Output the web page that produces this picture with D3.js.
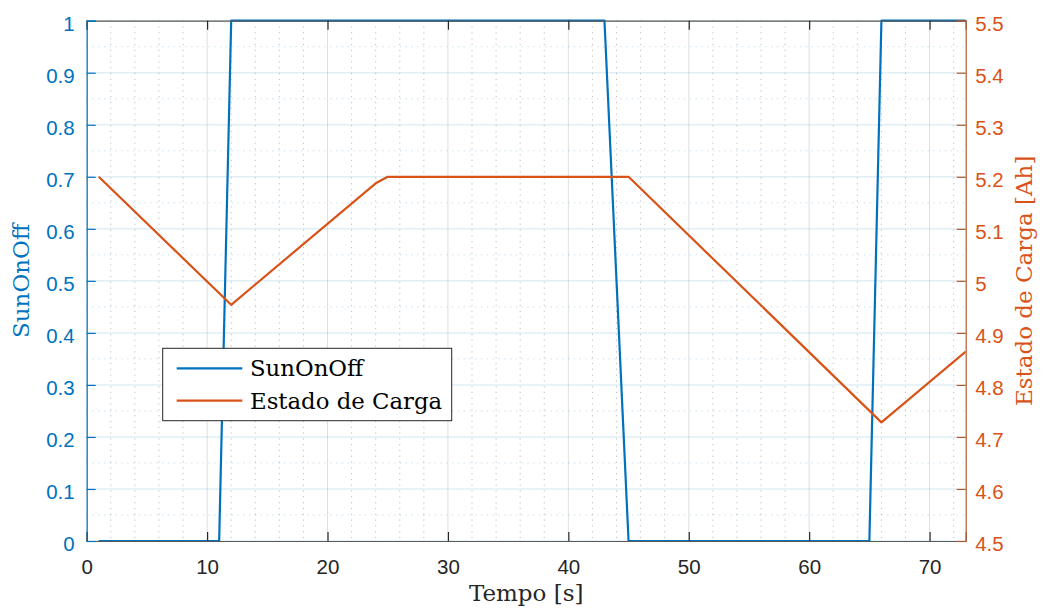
<!DOCTYPE html>
<html>
<head>
<meta charset="utf-8">
<script src="https://cdn.jsdelivr.net/npm/d3@7"></script>
<style>
  html, body { margin: 0; padding: 0; background: #fff; }
  svg { display: block; }
</style>
</head>
<body>
<svg id="chart" width="1043" height="609"></svg>
<script>
// Sun on/off signal (left axis)
const sunTime   = [1, 11, 12, 43, 45, 65, 66, 73];
const sunValue  = [0, 0, 1, 1, 0, 0, 1, 1];

// Battery state of charge in Ah (right axis)
const socTime   = [1, 12, 24, 25, 45, 66, 73];
const socValue  = [5.2, 4.954, 5.1875, 5.2, 5.2, 4.728, 4.864];

const xTicks      = [0, 10, 20, 30, 40, 50, 60, 70];
const leftTicks   = [0, 0.1, 0.2, 0.3, 0.4, 0.5, 0.6, 0.7, 0.8, 0.9, 1];
const rightTicks  = [4.5, 4.6, 4.7, 4.8, 4.9, 5, 5.1, 5.2, 5.3, 5.4, 5.5];

const seriesNames = ["SunOnOff", "Estado de Carga"];
const xTitle = "Tempo [s]";
const leftTitle = "SunOnOff";
const rightTitle = "Estado de Carga [Ah]";

const blue = "#0072BD";
const orange = "#D95319";
const axisGrey = "#262626";

const plot = { left: 86.7, top: 20.7, right: 965.7, bottom: 541 };

const svg = d3.select("#chart");

const x = d3.scaleLinear().domain([0, 73]).range([plot.left, plot.right]);
const yL = d3.scaleLinear().domain([0, 1]).range([plot.bottom, plot.top]);
const yR = d3.scaleLinear().domain([4.5, 5.5]).range([plot.bottom, plot.top]);

const W = plot.right - plot.left, H = plot.bottom - plot.top;

// Grid: minor dotted, then major solid
const grid = svg.append("g");
d3.range(0, 73.001, 2).filter(v => v % 10 !== 0).forEach(v => {
  grid.append("line")
    .attr("x1", x(v)).attr("x2", x(v)).attr("y1", plot.top).attr("y2", plot.bottom)
    .attr("stroke", axisGrey).attr("stroke-opacity", 0.3)
    .attr("stroke-width", 1).attr("stroke-dasharray", "1.2,4.6");
});
d3.range(0.05, 1, 0.1).forEach(v => {
  grid.append("line")
    .attr("x1", plot.left).attr("x2", plot.right).attr("y1", yL(v)).attr("y2", yL(v))
    .attr("stroke", blue).attr("stroke-opacity", 0.25)
    .attr("stroke-width", 1).attr("stroke-dasharray", "1.2,4.6");
});
xTicks.forEach(v => {
  grid.append("line")
    .attr("x1", x(v)).attr("x2", x(v)).attr("y1", plot.top).attr("y2", plot.bottom)
    .attr("stroke", axisGrey).attr("stroke-opacity", 0.15).attr("stroke-width", 1);
});
leftTicks.forEach(v => {
  grid.append("line")
    .attr("x1", plot.left).attr("x2", plot.right).attr("y1", yL(v)).attr("y2", yL(v))
    .attr("stroke", blue).attr("stroke-opacity", 0.12).attr("stroke-width", 1.5);
});

// Data lines, clipped to the plot box
svg.append("clipPath").attr("id", "plotClip")
  .append("rect").attr("x", plot.left).attr("y", plot.top - 2).attr("width", W).attr("height", H + 4);

const sunLine = d3.line().x(d => x(d[0])).y(d => yL(d[1]));
const socLine = d3.line().x(d => x(d[0])).y(d => yR(d[1]));

const lines = svg.append("g").attr("clip-path", "url(#plotClip)");
lines.append("path")
  .datum(sunTime.map((t, i) => [t, sunValue[i]]))
  .attr("d", sunLine).attr("fill", "none")
  .attr("stroke", blue).attr("stroke-width", 2.2).attr("stroke-linejoin", "round");
lines.append("path")
  .datum(socTime.map((t, i) => [t, socValue[i]]))
  .attr("d", socLine).attr("fill", "none")
  .attr("stroke", orange).attr("stroke-width", 2.2).attr("stroke-linejoin", "round");

// Axes
const tickLen = 9;
const tickFont = "'Liberation Sans', Arial, sans-serif";
const tickSize = 20.5;

// bottom axis
const xAxis = d3.axisBottom(x).tickValues(xTicks).tickSize(-tickLen).tickPadding(18.5).tickFormat(d3.format("d"));
const gx = svg.append("g").attr("transform", `translate(0,${plot.bottom})`).call(xAxis);
gx.select(".domain").attr("stroke", "#5a5a5a").attr("stroke-width", 1.2);
gx.selectAll(".tick line").attr("stroke", axisGrey).attr("stroke-width", 1.2);
gx.selectAll(".tick text").attr("fill", axisGrey).attr("font-family", tickFont).attr("font-size", tickSize);

// top axis (box edge with ticks)
const xTop = d3.axisTop(x).tickValues(xTicks).tickSize(-tickLen).tickFormat("");
const gt = svg.append("g").attr("transform", `translate(0,${plot.top})`).call(xTop);
gt.select(".domain").attr("stroke", "#5a5a5a").attr("stroke-width", 1.2);
gt.selectAll(".tick line").attr("stroke", axisGrey).attr("stroke-width", 1.2);

// left axis
const yAxisL = d3.axisLeft(yL).tickValues(leftTicks).tickSize(-tickLen).tickPadding(12).tickFormat(d => d3.format("")(+d.toFixed(1)));
const gl = svg.append("g").attr("transform", `translate(${plot.left},0)`).call(yAxisL);
gl.select(".domain").attr("stroke", blue).attr("stroke-width", 1.2);
gl.selectAll(".tick line").attr("stroke", blue).attr("stroke-width", 1.2);
gl.selectAll(".tick text").attr("fill", blue).attr("font-family", tickFont).attr("font-size", tickSize).attr("dy", "0.46em");

// right axis
const yAxisR = d3.axisRight(yR).tickValues(rightTicks).tickSize(-tickLen).tickPadding(9.5).tickFormat(d => d3.format("")(+d.toFixed(1)));
const gr = svg.append("g").attr("transform", `translate(${plot.right},0)`).call(yAxisR);
gr.select(".domain").attr("stroke", "#b05a30").attr("stroke-width", 1.2);
gr.selectAll(".tick line").attr("stroke", "#b05a30").attr("stroke-width", 1.2);
gr.selectAll(".tick text").attr("fill", orange).attr("font-family", tickFont).attr("font-size", tickSize).attr("dy", "0.46em");

// Axis titles
const titleFont = "'DejaVu Serif', 'Liberation Serif', serif";
svg.append("text")
  .attr("x", (plot.left + plot.right) / 2).attr("y", 601)
  .attr("text-anchor", "middle").attr("font-family", titleFont).attr("font-size", 23)
  .attr("fill", axisGrey).text(xTitle);
svg.append("text")
  .attr("transform", `translate(29,${(plot.top + plot.bottom) / 2}) rotate(-90)`)
  .attr("text-anchor", "middle").attr("font-family", titleFont).attr("font-size", 23)
  .attr("fill", blue).text(leftTitle);
svg.append("text")
  .attr("transform", `translate(1032,${(plot.top + plot.bottom) / 2}) rotate(-90)`)
  .attr("text-anchor", "middle").attr("font-family", titleFont).attr("font-size", 23)
  .attr("fill", orange).text(rightTitle);

// Legend
const legend = svg.append("g");
legend.append("rect")
  .attr("x", 162.7).attr("y", 348.3).attr("width", 289).attr("height", 72.4)
  .attr("fill", "#fff").attr("stroke", axisGrey).attr("stroke-width", 1);
[blue, orange].forEach((c, i) => {
  const yy = 368.3 + i * 32.4;
  legend.append("line")
    .attr("x1", 176.7).attr("x2", 242.3).attr("y1", yy).attr("y2", yy)
    .attr("stroke", c).attr("stroke-width", 2.2);
  legend.append("text")
    .attr("x", 250).attr("y", yy + 8)
    .attr("font-family", titleFont).attr("font-size", 22.8)
    .attr("fill", "#000").text(seriesNames[i]);
});
</script>
</body>
</html>
